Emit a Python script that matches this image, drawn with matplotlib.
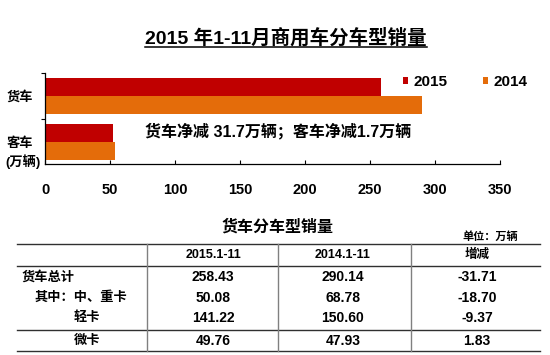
import numpy as np
import matplotlib
matplotlib.use("Agg")
import matplotlib.pyplot as plt

plt.rcParams['font.family'] = ['Liberation Sans', 'Noto Sans CJK SC']
plt.rcParams['font.weight'] = 'bold'

# Chart data (万辆)
categories = ['客车', '货车']
sales_2015 = [52.0, 258.43]
sales_2014 = [53.7, 290.14]
years = ['2015', '2014']
x_ticks = [0, 50, 100, 150, 200, 250, 300, 350]

# Table data
table_header = ['2015.1-11', '2014.1-11', '增减']
row_labels = ['货车总计', '其中：中、重卡', '轻卡', '微卡']
table_2015 = [258.43, 50.08, 141.22, 49.76]
table_2014 = [290.14, 68.78, 150.60, 47.93]
table_change = [-31.71, -18.70, -9.37, 1.83]

RED = '#C00000'
ORANGE = '#E46C0A'
W, H = 550, 355

fig = plt.figure(figsize=(W / 100, H / 100), dpi=100)
fig.patch.set_facecolor('white')

# Bar chart axes, placed in pixel terms
left, right, top, bottom = 45, 500, 73, 164
ax = fig.add_axes([left / W, 1 - bottom / H, (right - left) / W, (bottom - top) / H])

y = np.arange(len(categories))
h = 0.39
b15 = ax.barh(y + h / 2, sales_2015, height=h, color=RED, label=years[0])
b14 = ax.barh(y - h / 2, sales_2014, height=h, color=ORANGE, label=years[1])

ax.set_xlim(0, 350)
ax.set_ylim(-0.47, 1.5)
ax.set_xticks(x_ticks)
ax.set_xticklabels([str(t) for t in x_ticks], fontsize=10.5, fontweight='bold')
ax.tick_params(axis='x', direction='in', length=3, width=0.8, pad=14)
ax.set_yticks(y)
ax.set_yticklabels(categories, fontsize=9.5, fontweight='bold')
ax.tick_params(axis='y', which='major', length=0, pad=8.5)
ax.set_yticks([0.5, 1.5], minor=True)
ax.tick_params(axis='y', which='minor', direction='out', length=3, width=0.8)
for side in ['top', 'right']:
    ax.spines[side].set_visible(False)
for side in ['left', 'bottom']:
    ax.spines[side].set_linewidth(0.9)
    ax.spines[side].set_color('black')

ax.legend(handles=[b15, b14], loc='center left',
          bbox_to_anchor=(403 / W, 1 - 82 / H), bbox_transform=fig.transFigure,
          ncol=2, frameon=False, handlelength=0.35, handleheight=0.35,
          handletextpad=0.35, columnspacing=2.3, borderpad=0, borderaxespad=0,
          prop={'size': 11, 'weight': 'bold'})

# Overlay in pixel coordinates for the free texts and the table
ov = fig.add_axes([0, 0, 1, 1])
ov.set_xlim(0, W)
ov.set_ylim(H, 0)
ov.axis('off')

title = ov.text(145, 38, '2015 年1-11月商用车分车型销量', fontsize=14,
                fontweight='bold', ha='left', va='center')
ov.text(5, 162, '(万辆)', fontsize=9.5, fontweight='bold', ha='left', va='center')
ov.text(145, 131, '货车净减 31.7万辆；客车净减1.7万辆', fontsize=11.5,
        fontweight='bold', ha='left', va='center')

# Underline the title
fig.canvas.draw()
bb = title.get_window_extent()
ov.plot([bb.x0, bb.x1], [46.7, 46.7], color='black', lw=1.1)

# Table
ov.text(277, 227, '货车分车型销量', fontsize=11.5, fontweight='bold', ha='center', va='center')
ov.text(490, 237, '单位：万辆', fontsize=8, fontweight='bold', ha='center', va='center')

tx0, tx1 = 17, 540
for yy in [244, 265.5, 330, 350.5]:
    ov.plot([tx0, tx1], [yy, yy], color='#303030', lw=1.0)
for xx in [147, 278, 411]:
    ov.plot([xx, xx], [244, 350.5], color='#808080', lw=1.0)

col_x = [213, 343, 477]
ov_row_y = [277, 298, 318, 341]
for cx, txt in zip(col_x, table_header):
    ov.text(cx, 255, txt, fontsize=9, fontweight='bold', ha='center', va='center')

label_x = [22, 35, 74, 74]
for lx, ry, lab in zip(label_x, ov_row_y, row_labels):
    ov.text(lx, ry, lab, fontsize=9.5, fontweight='bold', ha='left', va='center')
for ry, v15, v14, dv in zip(ov_row_y, table_2015, table_2014, table_change):
    for cx, v in zip(col_x, [v15, v14, dv]):
        ov.text(cx, ry, '%.2f' % v, fontsize=10, fontweight='bold', ha='center', va='center')

fig.savefig('out.png', dpi=100, facecolor='white')
